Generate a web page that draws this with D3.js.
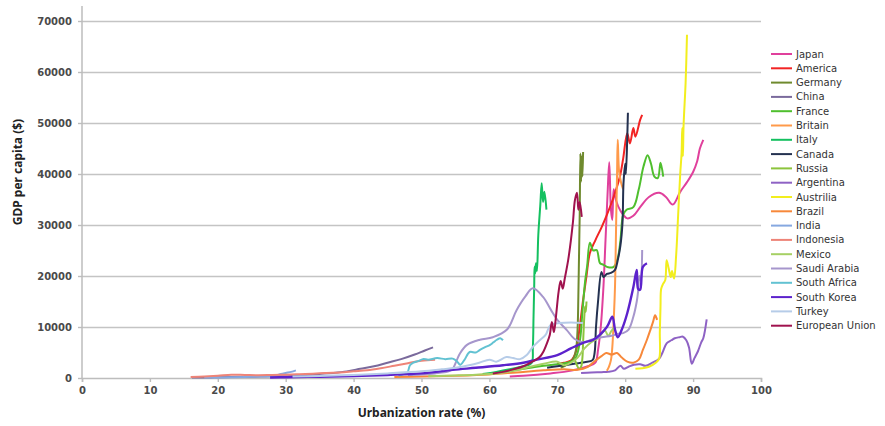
<!DOCTYPE html>
<html>
<head>
<meta charset="utf-8">
<script src="https://cdn.jsdelivr.net/npm/d3@7"></script>
<style>
    body { margin: 0; background: #fff; }
    svg { font-family: "DejaVu Sans", sans-serif; }
    .tick text { fill: #4a4a4a; font-size: 10px; font-weight: bold; }
    .title { font-family: "Noto Sans", sans-serif; font-weight: bold; fill: #222; }
</style>
</head>
<body>
<div id="chart"></div>
<script>
// urbanization rate (%) , GDP per capita ($)
const japan = [[63,300],[65,450],[67,650],[69,900],[71,1200],[73,1700],[74.5,2300],[75.6,3000],[76,5500],[76.4,10000],[76.8,18000],[77.1,27000],[77.4,36000],[77.65,42300],[77.9,33000],[78.1,31000],[78.3,37000],[78.6,35000],[79.3,32800],[80.3,31300],[81.2,31800],[82.2,33500],[83.5,35500],[85,36300],[86,35500],[87,34000],[88.1,36500],[89.1,38400],[90,40400],[90.6,42500],[91,45000],[91.5,46700]];
const america = [[70,2800],[71,3000],[72,3400],[72.7,5000],[73.3,10000],[73.8,15300],[74.3,20000],[74.8,24500],[75.6,27000],[76.5,29500],[77.3,32000],[78.3,35500],[79.2,39400],[79.7,43000],[80.3,48000],[80.7,46000],[81.2,49000],[81.5,47300],[82.2,50600],[82.5,51600]];
const germany = [[70.5,2000],[71.3,2500],[72,3200],[72.5,4200],[72.8,6000],[73,10000],[73.1,16000],[73.2,24000],[73.3,32000],[73.4,44000],[73.5,38500],[73.6,43500],[73.7,39500],[73.8,44300]];
const china = [[16.2,90],[17.5,100],[19,120],[20,160],[22,200],[25,250],[27,300],[29,330],[31,400],[33,600],[35,800],[37,1000],[39,1300],[41,1800],[43,2300],[45,3000],[47,3700],[49,4600],[50.5,5400],[51.7,6000]];
const france = [[62,1300],[64,1600],[66,2000],[68,2400],[70,2700],[71.5,3000],[72.5,3500],[73,5000],[73.4,8000],[73.7,13000],[74.1,19000],[74.4,22000],[74.8,26500],[75.3,25000],[75.8,25100],[76.3,22500],[76.8,22200],[77.5,21700],[78.3,21800],[78.9,23500],[79.3,27000],[79.7,32000],[80.2,33000],[81.2,33500],[82,37000],[82.7,41500],[83.3,43700],[83.8,42000],[84.3,39500],[84.8,39200],[85.2,42200],[85.6,39500]];
const britain = [[77.3,1400],[77.6,2200],[77.9,3500],[78.1,6000],[78.3,11000],[78.5,18000],[78.6,25000],[78.7,33000],[78.8,40000],[78.9,46700],[79.1,40500],[79.4,38300],[79.7,37000]];
const italy = [[59,800],[61,1200],[63,1700],[65,2300],[66.2,2900],[66.4,6000],[66.5,12000],[66.6,18000],[66.65,21800],[66.75,20500],[66.85,22500],[67,21000],[67.2,28000],[67.5,34000],[67.7,38200],[67.9,34500],[68.1,36500],[68.4,33000]];
const canada = [[68.5,2000],[70,2300],[72,2700],[74,3100],[75.2,3500],[75.5,5000],[75.7,10000],[76,15000],[76.5,20800],[76.8,19800],[77.3,20400],[77.9,20600],[78.5,21200],[78.9,23100],[79.3,26000],[79.6,30400],[79.75,38200],[80,42000],[80.1,40000],[80.3,47000],[80.4,52000]];
const russia = [[72.6,3500],[72.9,2500],[73.2,1800],[73.5,2200],[73.7,4000],[73.8,7000],[73.9,10000],[74,12500],[74.1,14000],[74.2,13000],[74.3,15000]];
const argentina = [[73.5,1000],[75,1100],[76.5,1150],[77.5,1200],[78.5,1500],[79.3,2400],[79.8,1800],[80.5,2200],[81.3,2600],[82.2,2700],[83,2400],[84,3000],[85,3800],[85.5,5000],[86.1,6800],[86.8,7400],[87.3,7800],[88,8000],[88.5,8100],[89,7400],[89.4,6000],[89.8,2800],[90.2,3900],[90.7,5200],[91.2,7000],[91.5,7800],[92,11500]];
const austrilia = [[81.5,1800],[82.5,1900],[83.5,2200],[84.5,3000],[85,3800],[85.1,9000],[85.2,14000],[85.3,17500],[85.6,18500],[85.9,19200],[86.1,23100],[86.4,21500],[86.7,19800],[86.9,21000],[87.2,19500],[87.5,24000],[87.8,32000],[88.1,40000],[88.3,44000],[88.4,49000],[88.5,43500],[88.6,49600],[88.9,58000],[89.1,67300]];
const brazil = [[46,200],[50,300],[55,450],[60,700],[64,1100],[68,1500],[71,1700],[73,1600],[74.5,2200],[75.5,3300],[76.5,4300],[77.2,4900],[78,4600],[78.8,4900],[79.5,4000],[80.3,3200],[81.2,3000],[82,3600],[82.6,5500],[83.2,7500],[83.7,9400],[84.1,11000],[84.4,12300],[84.7,11400]];
const india = [[18,80],[20,100],[22,150],[24,220],[26,280],[27.5,330],[28.5,450],[29.3,800],[30,1000],[30.8,1200],[31.5,1500]];
const indonesia = [[16,200],[18,300],[20,450],[22,650],[24,600],[26,550],[28,600],[30,650],[32,750],[34,850],[36,1000],[38,1100],[40,1300],[42,1500],[44,1900],[46,2400],[48,2900],[50,3400],[52,3600]];
const mexico = [[51,350],[55,500],[58,650],[61,900],[64,1500],[66,2200],[68,2800],[70,3200],[71,2500],[72,3000],[73,4000],[74,5800],[75,7000],[76,7800],[77,9300],[77.5,8300],[78,9300],[78.5,10000]];
const saudiArabia = [[48,600],[50,700],[52,900],[54,1300],[54.6,1800],[55.2,3500],[55.7,4900],[56.7,6500],[58.6,7500],[60.5,8000],[62.6,9500],[64,13300],[65.3,16000],[66.4,17600],[67.9,15900],[69,13500],[70,11400],[71.4,9400],[72.5,7700],[73.8,7000],[75,7500],[76.5,8000],[78,8300],[79,8700],[79.7,8800],[80.5,9500],[81.2,12000],[81.7,15000],[81.9,17000],[82.1,20000],[82.3,19000],[82.5,25100]];
const southAfrica = [[46.6,500],[47.2,700],[47.9,1000],[48.3,2500],[48.8,3000],[49.5,3300],[50.2,3700],[51,3600],[52.3,3900],[53.5,3700],[54.6,3800],[55.2,3300],[55.7,2600],[56.3,3500],[57.1,5100],[58,5000],[58.6,5500],[59.3,6000],[60.1,6500],[60.6,7000],[61.1,7500],[61.6,7800],[62,7400]];
const southKorea = [[27.7,100],[30,150],[35,250],[40,400],[45,600],[50,900],[54.6,1600],[58,2000],[62,2500],[65,3000],[67,3600],[70,4500],[72,5800],[74,7000],[75.3,7500],[77.3,10000],[78.1,12000],[78.5,9500],[78.9,8000],[79.5,9500],[80.3,12700],[81.2,17800],[81.7,21200],[81.9,17500],[82.2,17300],[82.6,21800],[83.2,22500]];
const turkey = [[31,300],[35,400],[40,600],[45,900],[50,1300],[53,1700],[55,2000],[57,2500],[58.5,3000],[60,3600],[61,3200],[62.5,4100],[63.5,3900],[64.5,3700],[65.5,4500],[66.4,6100],[67.5,7500],[68.3,8500],[69,10400],[70.4,10800],[72,10900],[73.8,10800]];
const europeanUnion = [[60.5,900],[62,1200],[63.5,1700],[65,2300],[66.3,3200],[67.4,4100],[68,5300],[68.5,6900],[68.9,8500],[69.2,11000],[69.5,9000],[69.8,12000],[70.2,17000],[70.5,19000],[70.8,17500],[71.1,19500],[71.6,23100],[72,27000],[72.3,30500],[72.6,34900],[72.9,36300],[73.1,33000],[73.3,34500],[73.6,31600]];

const countries = ["Japan", "America", "Germany", "China", "France", "Britain", "Italy", "Canada", "Russia", "Argentina", "Austrilia", "Brazil", "India", "Indonesia", "Mexico", "Saudi Arabia", "South Africa", "South Korea", "Turkey", "European Union"];
const seriesValues = [japan, america, germany, china, france, britain, italy, canada, russia, argentina, austrilia, brazil, india, indonesia, mexico, saudiArabia, southAfrica, southKorea, turkey, europeanUnion];
const colors = ["#e0409c", "#f22424", "#6f8a2e", "#7a6a9c", "#4fbf2e", "#ff9a4a", "#14c060", "#243150", "#8cc43c", "#8e62c4", "#f2ee1e", "#f7883a", "#86a8e0", "#ee8478", "#a6d064", "#a696cc", "#62c2d2", "#5c22cc", "#b6cce8", "#a0124e"];

const xTicks = [0, 10, 20, 30, 40, 50, 60, 70, 80, 90, 100];
const yTicks = [0, 10000, 20000, 30000, 40000, 50000, 60000, 70000];

let width = 885,
    height = 426,
    margin = { top: 21, right: 124, bottom: 48, left: 82 };

const svg = d3
    .select("#chart")
    .append("svg")
    .attr("width", width)
    .attr("height", height);

let x = d3
    .scaleLinear()
    .domain([0, 100])
    .range([margin.left, width - margin.right]);

let y = d3
    .scaleLinear()
    .domain([0, 70000])
    .range([height - margin.bottom, margin.top]);

// gridlines
svg.append("g")
    .attr("class", "grid")
    .attr("transform", `translate(${margin.left},0)`)
    .call(d3.axisLeft(y).tickValues(yTicks.slice(1)).tickSize(-(x(100) - x(0))).tickFormat(""))
    .call((g) => g.select(".domain").remove())
    .call((g) => g.selectAll("line").attr("stroke", "#c4c4c4").attr("stroke-width", 1.4));

// y axis
svg.append("g")
    .attr("class", "y-axis")
    .attr("transform", `translate(${margin.left},0)`)
    .call(d3.axisLeft(y).tickValues(yTicks).tickSize(4).tickPadding(6).tickFormat(d3.format("d")))
    .call((g) => g.select(".domain").remove())
    .call((g) => g.selectAll("line").attr("stroke", "#bdbdbd").attr("stroke-width", 1.4));

svg.append("line")
    .attr("x1", margin.left)
    .attr("x2", margin.left)
    .attr("y1", 6)
    .attr("y2", y(0))
    .attr("stroke", "#bdbdbd")
    .attr("stroke-width", 1.5);

// x axis
svg.append("g")
    .attr("class", "x-axis")
    .attr("transform", `translate(0,${y(0)})`)
    .call(d3.axisBottom(x).tickValues(xTicks).tickSize(4).tickPadding(5).tickFormat(d3.format("d")))
    .call((g) => g.select(".domain").attr("stroke", "#bdbdbd").attr("stroke-width", 1.5))
    .call((g) => g.selectAll("line").attr("stroke", "#bdbdbd").attr("stroke-width", 1.4));

svg.selectAll(".tick text").attr("font-family", "DejaVu Sans, sans-serif");

let line = d3
    .line()
    .x((d) => x(d[0]))
    .y((d) => y(d[1]))
    .curve(d3.curveCatmullRom.alpha(0.5));

seriesValues.forEach((values, i) => {
    svg.append("path")
        .datum(values)
        .attr("fill", "none")
        .attr("stroke", colors[i])
        .attr("stroke-width", i == 17 ? 2.4 : 2)
        .attr("stroke-linejoin", "round")
        .attr("d", line);
});

// axis titles
svg.append("text")
    .attr("class", "title")
    .attr("text-anchor", "middle")
    .attr("x", (x(0) + x(100)) / 2)
    .attr("y", 417)
    .attr("font-size", "12px")
    .text("Urbanization rate (%)");

svg.append("text")
    .attr("class", "title")
    .attr("text-anchor", "middle")
    .attr("transform", "rotate(-90)")
    .attr("x", -172)
    .attr("y", 22)
    .attr("font-size", "12px")
    .text("GDP per capita ($)");

// legend
let legend = svg.append("g").attr("class", "legend");
countries.forEach((name, i) => {
    let ly = 54 + i * 14.3;
    legend.append("line")
        .attr("x1", 771)
        .attr("x2", 792)
        .attr("y1", ly)
        .attr("y2", ly)
        .attr("stroke", colors[i])
        .attr("stroke-width", 2);
    legend.append("text")
        .attr("x", 796)
        .attr("y", ly)
        .attr("dy", "0.35em")
        .attr("font-size", "10px")
        .attr("fill", "#333")
        .text(name);
});
</script>
</body>
</html>
